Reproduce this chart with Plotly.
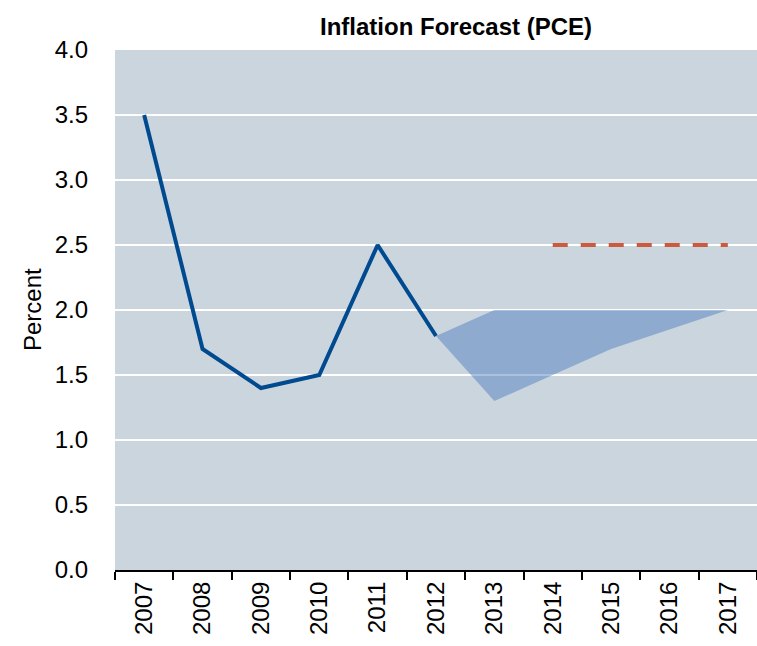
import plotly.graph_objects as go

years = ["2007", "2008", "2009", "2010", "2011", "2012", "2013", "2014", "2015", "2016", "2017"]
actual_years = ["2007", "2008", "2009", "2010", "2011", "2012"]
actual_pce = [3.5, 1.7, 1.4, 1.5, 2.5, 1.8]
fan_years = ["2012", "2013", "2014", "2015", "2016", "2017"]
fan_low = [1.8, 1.3, 1.5, 1.7, 1.85, 2.0]
fan_high = [1.8, 2.0, 2.0, 2.0, 2.0, 2.0]
target_years = ["2014", "2015", "2016", "2017"]
target = [2.5, 2.5, 2.5, 2.5]
y_ticks = [0.0, 0.5, 1.0, 1.5, 2.0, 2.5, 3.0, 3.5, 4.0]

FONT = "Liberation Sans, Arial, sans-serif"
W, H = 757, 646
L, R, T, B = 115, 0, 50, 76

fig = go.Figure()
fig.add_trace(go.Scatter(x=fan_years, y=fan_low, mode="lines", line=dict(width=0),
                         hoverinfo="skip", showlegend=False))
fig.add_trace(go.Scatter(x=fan_years, y=fan_high, mode="lines", line=dict(width=0),
                         fill="tonexty", fillcolor="rgba(70,120,190,0.46)",
                         hoverinfo="skip", showlegend=False))
fig.add_trace(go.Scatter(x=actual_years, y=actual_pce, mode="lines",
                         line=dict(color="#004a8f", width=4), showlegend=False))
fig.add_trace(go.Scatter(x=target_years, y=target, mode="lines",
                         line=dict(color="#cc5a3c", width=4, dash="15px,13px"), showlegend=False))

fig.update_layout(
    width=W, height=H,
    margin=dict(l=L, r=R, t=T, b=B),
    paper_bgcolor="white",
    plot_bgcolor="#cbd5de",
    font=dict(family=FONT, size=24, color="black"),
    title=dict(text="<b>Inflation Forecast (PCE)</b>", x=456 / W, xref="container", xanchor="center",
               y=1 - 27 / H, yref="container", yanchor="middle",
               font=dict(family=FONT, size=24, color="black")),
    showlegend=False,
    annotations=[dict(text="Percent", textangle=-90, xref="paper", yref="paper",
                      x=(32 - L) / (W - L - R), y=0.5, xanchor="center", yanchor="middle",
                      showarrow=False, font=dict(family=FONT, size=24, color="black"))],
)
fig.update_xaxes(
    type="category", categoryorder="array", categoryarray=years,
    range=[-0.5, 10.5], tickson="boundaries", ticks="outside", ticklen=8, tickwidth=2,
    tickcolor="black", showline=True, linecolor="black", linewidth=2,
    tickangle=-90, showgrid=False, automargin=False,
    tickfont=dict(family=FONT, size=24),
)
fig.update_yaxes(
    range=[0, 4.0], tickvals=y_ticks, ticktext=[f"{v:.1f}" for v in y_ticks],
    showgrid=True, gridcolor="white", gridwidth=2, zeroline=False,
    ticks="", showline=False, automargin=False, ticklabelstandoff=26,
    tickfont=dict(family=FONT, size=24),
)

fig.write_html("out.html", config={"displayModeBar": False},
               post_script="document.body.style.margin='0';document.body.style.overflow='hidden';")
